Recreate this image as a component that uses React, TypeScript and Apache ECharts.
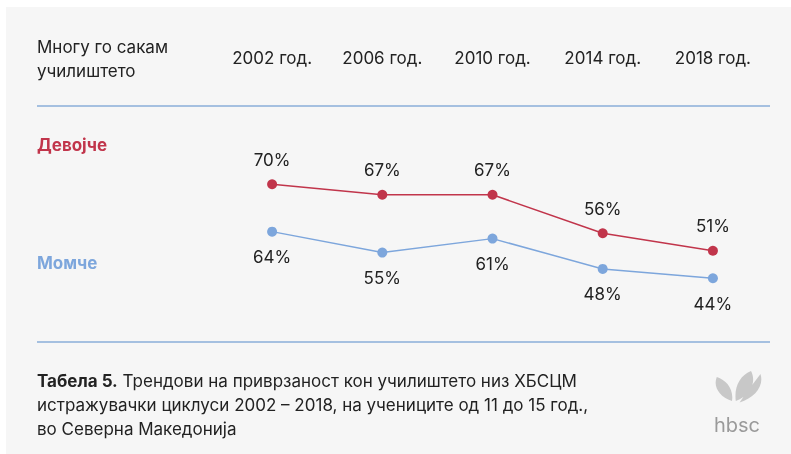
import React, { useEffect, useRef } from "react";
import * as echarts from "echarts";

const years = ["2002 год.", "2006 год.", "2010 год.", "2014 год.", "2018 год."];
const girls = [70, 67, 67, 56, 51];
const boys = [64, 55, 61, 48, 44];
const headerLines = ["Многу го сакам", "училиштето"];
const girlsName = "Девојче";
const boysName = "Момче";
const captionBold = "Табела 5.";
const captionRest = " Трендови на приврзаност кон училиштето низ ХБСЦМ";
const captionLine2 = "истражувачки циклуси 2002 – 2018, на учениците од 11 до 15 год.,";
const captionLine3 = "во Северна Македонија";

const RED = "#c1354b";
const BLUE = "#7da6dc";
const SEP = "#a5c0e0";
const FONT = "Inter, 'Noto Sans', sans-serif";

const leafPath =
  "M20 40 C6 34 0 20 4 8 C14 12 22 24 20 40 Z M24 40 C22 22 28 6 40 0 C46 14 40 32 24 40 Z M28 42 C34 30 42 18 50 4 C54 20 44 36 28 42 Z";
echarts.graphic.registerShape("hbscLeaf", echarts.graphic.extendPath(leafPath, {}) as any);

export default function App() {
  const ref = useRef<HTMLDivElement>(null);
  useEffect(() => {
    const chart = echarts.init(ref.current!, null, { renderer: "svg" });
    chart.setOption({
      animation: false,
      textStyle: { fontFamily: FONT },
      grid: { left: 217, right: 23, top: 106, bottom: 112 },
      xAxis: {
        type: "category",
        data: years,
        position: "top",
        boundaryGap: true,
        axisLine: { show: false },
        axisTick: { show: false },
        splitLine: { show: false },
        axisLabel: { color: "#222", fontSize: 17, margin: 40, fontFamily: FONT },
      },
      yAxis: [
        { type: "value", min: 24.93, max: 92.36, show: false },
        { type: "value", min: 16.63, max: 117.92, show: false },
      ],
      series: [
        {
          name: girlsName,
          type: "line",
          yAxisIndex: 0,
          data: girls,
          symbol: "circle",
          symbolSize: 10,
          lineStyle: { color: RED, width: 1.5 },
          itemStyle: { color: RED },
          label: {
            show: true,
            position: "top",
            distance: 11,
            formatter: "{c}%",
            color: "#222",
            fontSize: 17,
            fontFamily: FONT,
          },
        },
        {
          name: boysName,
          type: "line",
          yAxisIndex: 1,
          data: boys,
          symbol: "circle",
          symbolSize: 10,
          lineStyle: { color: BLUE, width: 1.5 },
          itemStyle: { color: BLUE },
          label: {
            show: true,
            position: "bottom",
            distance: 12,
            formatter: "{c}%",
            color: "#222",
            fontSize: 17,
            fontFamily: FONT,
          },
        },
      ],
      graphic: [
        {
          type: "rect",
          z: -10,
          shape: { x: 6, y: 7, width: 800, height: 460 },
          style: { fill: "#f6f6f6" },
          silent: true,
        },
        {
          type: "line",
          shape: { x1: 37, y1: 106, x2: 770, y2: 106 },
          style: { stroke: SEP, lineWidth: 2 },
        },
        {
          type: "line",
          shape: { x1: 37, y1: 342, x2: 770, y2: 342 },
          style: { stroke: SEP, lineWidth: 2 },
        },
        {
          type: "text",
          x: 37,
          y: 35,
          style: {
            text: headerLines.join("\n"),
            fill: "#222",
            font: `17px ${FONT}`,
            lineHeight: 24,
            verticalAlign: "top",
          },
        },
        {
          type: "text",
          x: 37,
          y: 145,
          style: {
            text: girlsName,
            fill: RED,
            font: `bold 17px ${FONT}`,
            verticalAlign: "middle",
          },
        },
        {
          type: "text",
          x: 37,
          y: 263,
          style: {
            text: boysName,
            fill: BLUE,
            font: `bold 17px ${FONT}`,
            verticalAlign: "middle",
          },
        },
        {
          type: "text",
          x: 37,
          y: 369,
          style: {
            text: `{b|${captionBold}}{r|${captionRest}}\n{r|${captionLine2}}\n{r|${captionLine3}}`,
            verticalAlign: "top",
            lineHeight: 24,
            rich: {
              b: { font: `bold 17px ${FONT}`, fill: "#222", lineHeight: 24 },
              r: { font: `17px ${FONT}`, fill: "#222", lineHeight: 24 },
            },
          } as any,
        },
        {
          type: "hbscLeaf",
          x: 713,
          y: 371,
          scaleX: 0.95,
          scaleY: 0.75,
          style: { fill: "#c8c8c8" },
        },
        {
          type: "text",
          x: 737,
          y: 425,
          style: {
            text: "hbsc",
            fill: "#9a9a9a",
            font: `20px ${FONT}`,
            align: "center",
            verticalAlign: "middle",
          },
        },
      ],
    });
    return () => chart.dispose();
  }, []);
  return (
    <div
      ref={ref}
      style={{ position: "fixed", left: 0, top: 0, width: 791, height: 454 }}
    />
  );
}
